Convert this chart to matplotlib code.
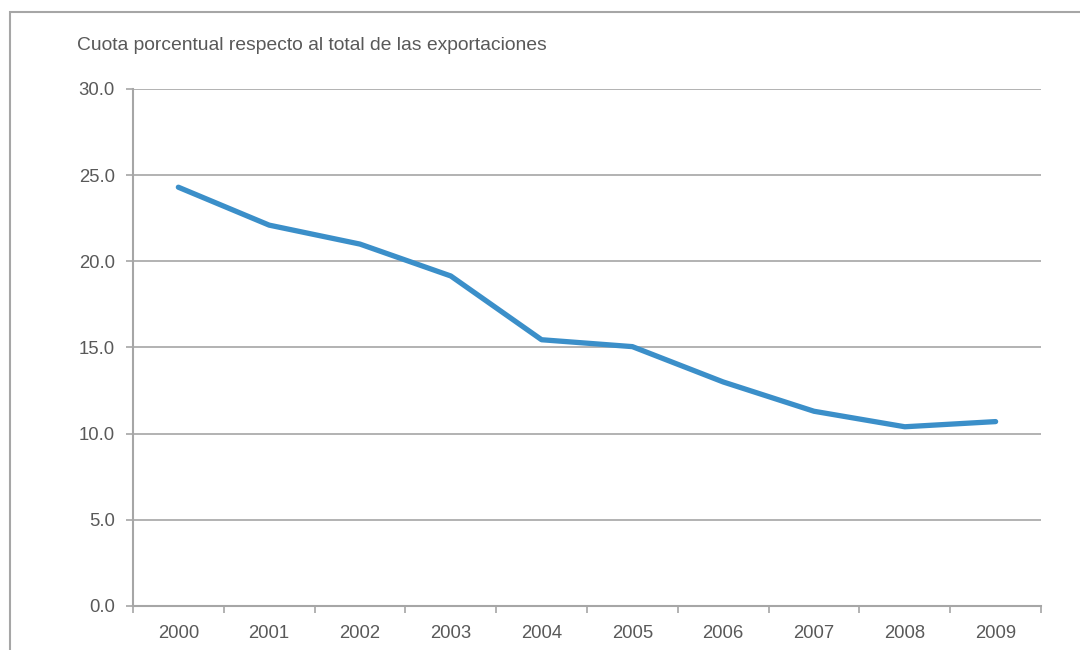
import matplotlib
matplotlib.use('Agg')
import matplotlib.pyplot as plt
from matplotlib.patches import Rectangle

years = ['2000', '2001', '2002', '2003', '2004', '2005', '2006', '2007', '2008', '2009']
cuota = [24.3, 22.1, 21.0, 19.15, 15.45, 15.05, 13.0, 11.3, 10.4, 10.7]
y_ticks = [0, 5, 10, 15, 20, 25, 30]

plt.rcParams['font.family'] = ['Liberation Sans', 'DejaVu Sans']
text_color = '#595959'
grid_color = '#a6a6a6'

fig = plt.figure(figsize=(10.8, 6.5), dpi=100)
ax = fig.add_axes([0.1231, 0.0677, 0.8408, 0.7954])

x = list(range(len(years)))
ax.plot(x, cuota, color='#3b8fc9', linewidth=3.8, solid_capstyle='round', solid_joinstyle='round', zorder=3)

ax.set_xlim(-0.5, len(years) - 0.5)
ax.set_ylim(0, 30)
ax.set_yticks(y_ticks)
ax.set_yticklabels(['%.1f' % v for v in y_ticks])
ax.yaxis.grid(True, color=grid_color, linewidth=1.2)
ax.set_axisbelow(True)

# category labels centred, ticks on the boundaries between years
ax.set_xticks(x)
ax.set_xticklabels(years)
ax.set_xticks([i - 0.5 for i in range(len(years) + 1)], minor=True)
ax.tick_params(axis='x', which='major', length=0, pad=14, labelsize=13.3, labelcolor=text_color)
ax.tick_params(axis='x', which='minor', length=5, width=1.2, color=grid_color, direction='out')
ax.tick_params(axis='y', length=5, width=1.2, color=grid_color, pad=8, labelsize=13.3, labelcolor=text_color)

for side in ['top', 'right']:
    ax.spines[side].set_visible(False)
for side in ['left', 'bottom']:
    ax.spines[side].set_color(grid_color)
    ax.spines[side].set_linewidth(1.5)

fig.text(77 / 1080, 0.930, 'Cuota porcentual respecto al total de las exportaciones',
         fontsize=13.9, color=text_color, va='center', ha='left')

# outer frame, open on the right and bottom edges
fig.patches.append(Rectangle((10 / 1080, -0.1), 1.2, 1 - 12 / 650 + 0.1,
                             transform=fig.transFigure, fill=False,
                             edgecolor=grid_color, linewidth=1.5))

fig.savefig('out.png', dpi=100)
